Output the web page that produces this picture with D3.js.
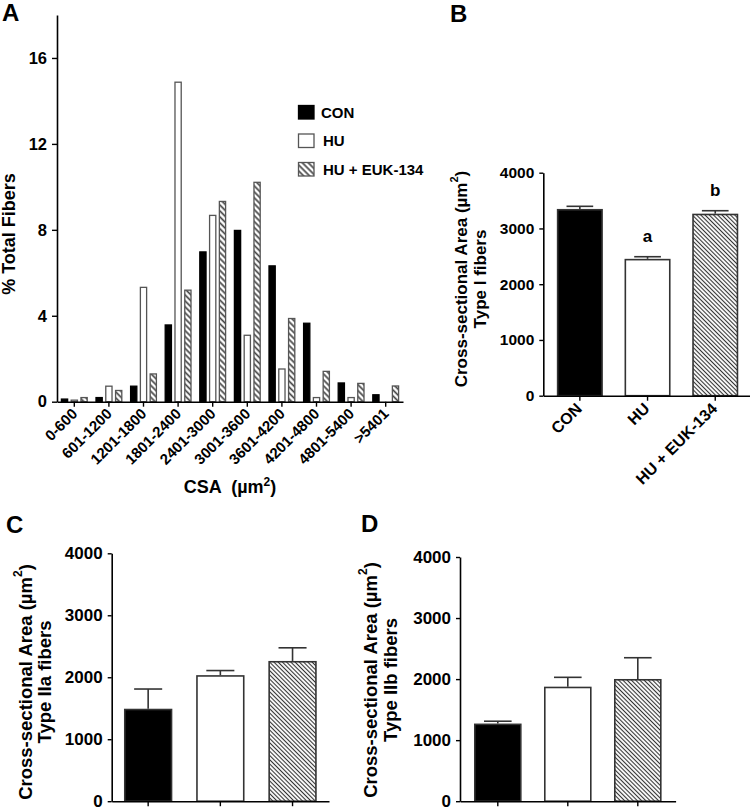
<!DOCTYPE html>
<html>
<head>
<meta charset="utf-8">
<script src="https://cdn.jsdelivr.net/npm/d3@7"></script>
<style>
  html, body { margin: 0; padding: 0; background: #fff; }
  svg { display: block; font-family: "Liberation Sans", Arial, Helvetica, sans-serif; font-weight: bold; }
</style>
</head>
<body>
<svg id="chart" width="750" height="810"></svg>
<script>
// ---------- data ----------
const categories = ["0-600","601-1200","1201-1800","1801-2400","2401-3000","3001-3600","3601-4200","4201-4800","4801-5400",">5401"];
const seriesNames = ["CON","HU","HU + EUK-134"];
const conPct = [0.15, 0.22, 0.75, 3.6, 7.0, 8.0, 6.35, 3.68, 0.9, 0.35];
const huPct  = [0.1, 0.75, 5.35, 14.9, 8.7, 3.12, 1.55, 0.22, 0.22, 0];
const eukPct = [0.22, 0.55, 1.32, 5.22, 9.35, 10.24, 3.9, 1.44, 0.88, 0.76];
const pctTicks = [0, 4, 8, 12, 16];

const groups = ["CON","HU","HU + EUK-134"];
const typeI     = [3350, 2455, 3265];
const typeIErr  = [47, 38, 53];
const typeISig  = ["", "a", "b"];
const typeIIa    = [1492, 2034, 2263];
const typeIIaErr = [318, 74, 212];
const typeIIb    = [1272, 1876, 2002];
const typeIIbErr = [38, 153, 348];
const areaTicks = [0, 1000, 2000, 3000, 4000];

// ---------- setup ----------
const svg = d3.select("#chart");
const defs = svg.append("defs");
function hatch(id, s, w, col) {
  const p = defs.append("pattern").attr("id", id)
    .attr("patternUnits", "userSpaceOnUse").attr("width", s).attr("height", s)
    .attr("patternTransform", "rotate(-45)");
  p.append("rect").attr("width", s).attr("height", s).attr("fill", "#fff");
  p.append("line").attr("x1", s/2).attr("x2", s/2).attr("y1", 0).attr("y2", s)
    .attr("stroke", col).attr("stroke-width", w);
}
hatch("hatchA", 4.2, 1.7, "#444");
hatch("hatchB", 3, 1.1, "#333");

function styleAxis(g, fs) {
  g.select(".domain").attr("stroke", "#000").attr("stroke-width", 1.6);
  g.selectAll(".tick line").attr("stroke", "#000").attr("stroke-width", 1.4);
  g.selectAll(".tick text").attr("fill", "#000").style("font-size", fs + "px")
    .style("font-family", '"Liberation Sans", Arial, sans-serif').style("font-weight", "bold");
}

function areaLabel(parent, cx1, cx2, cy, line2, fs) {
  const t1 = parent.append("text").attr("transform", `translate(${cx1},${cy}) rotate(-90)`)
    .attr("text-anchor", "middle").attr("dominant-baseline", "central").style("font-size", fs + "px");
  t1.append("tspan").text("Cross-sectional Area (µm");
  t1.append("tspan").text("2").style("font-size", (fs*0.65) + "px").attr("dy", -fs*0.4);
  t1.append("tspan").text(")").attr("dy", fs*0.4);
  parent.append("text").attr("transform", `translate(${cx2},${cy}) rotate(-90)`)
    .attr("text-anchor", "middle").attr("dominant-baseline", "central").style("font-size", fs + "px")
    .text(line2);
}

// ---------- Panel A ----------
(function(){
  const x0 = 57, x1 = 403, yB = 401.7, yT = 15;
  const x = d3.scaleBand().domain(categories).range([x0, x1]).paddingInner(0).paddingOuter(0);
  const xs = d3.scaleBand().domain(seriesNames).range([-13.5, 13.5]).paddingInner(0.24);
  const y = d3.scaleLinear().domain([0, 18]).range([yB, yT]);
  const g = svg.append("g");
  const fills = ["#000", "#fff", "url(#hatchA)"];
  const strokes = ["#000", "#555", "#555"];
  const data = [conPct, huPct, eukPct];
  seriesNames.forEach((s, si) => {
    g.append("g").selectAll("rect").data(categories.map((c, i) => ({c, v: data[si][i]})))
      .join("rect")
      .filter(d => d.v > 0)
      .attr("x", d => x(d.c) + x.bandwidth()/2 + xs(s) + 0.6)
      .attr("width", xs.bandwidth() - 1.2)
      .attr("y", d => y(d.v) + 0.6)
      .attr("height", d => Math.max(0, yB - y(d.v) - 0.6))
      .attr("fill", fills[si]).attr("stroke", strokes[si]).attr("stroke-width", 1.3);
  });
  const ya = g.append("g").attr("transform", `translate(${x0},0)`)
    .call(d3.axisLeft(y).tickValues(pctTicks).tickFormat(d3.format("d")).tickSize(5).tickPadding(5).tickSizeOuter(0));
  styleAxis(ya, 16.5);
  const xa = g.append("g").attr("transform", `translate(0,${yB})`)
    .call(d3.axisBottom(x).tickSize(5).tickSizeOuter(0).tickFormat(""));
  styleAxis(xa, 15);
  g.append("g").selectAll("text").data(categories).join("text")
    .attr("transform", d => `translate(${x(d) + x.bandwidth()/2 + 4},${yB + 13}) rotate(-45)`)
    .attr("text-anchor", "end").style("font-size", "15px").text(d => d);
  // axis titles
  g.append("text").attr("transform", `translate(9,234) rotate(-90)`)
    .attr("text-anchor", "middle").attr("dominant-baseline", "central")
    .style("font-size", "18px").text("% Total Fibers");
  const xt = g.append("text").attr("x", 230).attr("y", 493).attr("text-anchor", "middle")
    .style("font-size", "18px").style("white-space", "pre");
  xt.append("tspan").text("CSA  (µm");
  xt.append("tspan").text("2").style("font-size", "12px").attr("dy", -7);
  xt.append("tspan").text(")").attr("dy", 7);
  // legend
  const lg = g.append("g");
  const legY = [105.5, 134, 162.5];
  seriesNames.forEach((s, i) => {
    lg.append("rect").attr("x", 298.5).attr("y", legY[i]).attr("width", 15.5).attr("height", 13.5)
      .attr("fill", fills[i]).attr("stroke", strokes[i]).attr("stroke-width", 1.3);
    lg.append("text").attr("x", i === 0 ? 321 : 323).attr("y", legY[i] + 12)
      .style("font-size", "15px").text(s);
  });
  svg.append("text").attr("x", 2).attr("y", 21).style("font-size", "24px").text("A");
})();

// ---------- bar panels B, C, D ----------
function barPanel(o) {
  const g = svg.append("g");
  const x = d3.scaleBand().domain(groups).range([o.x0, o.x1]).paddingInner(o.pi).paddingOuter(o.po);
  const y = d3.scaleLinear().domain([0, 4000]).range([o.yB, o.yT]);
  const fills = ["#000", "#fff", "url(#hatchB)"];
  const rows = groups.map((c, i) => ({c, v: o.vals[i], e: o.errs[i], s: o.sig ? o.sig[i] : ""}));
  // error bars
  const cw = x.bandwidth() * 0.58;
  const eg = g.append("g").attr("stroke", "#333").attr("stroke-width", 1.6);
  eg.selectAll("line.stem").data(rows).join("line").attr("class", "stem")
    .attr("x1", d => x(d.c) + x.bandwidth()/2).attr("x2", d => x(d.c) + x.bandwidth()/2)
    .attr("y1", d => y(d.v)).attr("y2", d => y(d.v + d.e));
  eg.selectAll("line.cap").data(rows).join("line").attr("class", "cap")
    .attr("x1", d => x(d.c) + x.bandwidth()/2 - cw/2).attr("x2", d => x(d.c) + x.bandwidth()/2 + cw/2)
    .attr("y1", d => y(d.v + d.e)).attr("y2", d => y(d.v + d.e));
  g.append("g").selectAll("rect").data(rows).join("rect")
    .attr("x", d => x(d.c) + 0.8).attr("width", x.bandwidth() - 1.6)
    .attr("y", d => y(d.v) + 0.8).attr("height", d => o.yB - y(d.v) - 0.8)
    .attr("fill", (d, i) => fills[i]).attr("stroke", "#333").attr("stroke-width", 1.6);
  // significance letters
  g.append("g").selectAll("text").data(rows.filter(d => d.s)).join("text")
    .attr("x", d => x(d.c) + x.bandwidth()/2).attr("y", d => y(d.v + d.e) - 15)
    .attr("text-anchor", "middle").style("font-size", "17px").text(d => d.s);
  const ya = g.append("g").attr("transform", `translate(${o.x0},0)`)
    .call(d3.axisLeft(y).tickValues(areaTicks).tickFormat(d3.format("d")).tickSize(4).tickPadding(5).tickSizeOuter(0));
  styleAxis(ya, o.fs);
  const xa = g.append("g").attr("transform", `translate(0,${o.yB})`)
    .call(d3.axisBottom(x).tickSize(5).tickSizeOuter(0).tickFormat(""));
  styleAxis(xa, o.fs);
  if (o.xlabels) {
    g.append("g").selectAll("text").data(groups).join("text")
      .attr("transform", d => `translate(${x(d) + x.bandwidth()/2 + 3},${o.yB + 14}) rotate(-45)`)
      .attr("text-anchor", "end").style("font-size", "16px").text(d => d);
  }
  areaLabel(g, o.lx1, o.lx2, o.ly, o.line2, o.lfs);
  svg.append("text").attr("x", o.px).attr("y", o.py).style("font-size", "24px").text(o.panel);
}

barPanel({panel: "B", px: 450, py: 22, x0: 543.3, x1: 751.8, pi: 0.32, po: 0.2, yB: 395.7, yT: 172.7,
  vals: typeI, errs: typeIErr, sig: typeISig, fs: 15.5, xlabels: true,
  lx1: 461, lx2: 480.5, ly: 279, line2: "Type I fibers", lfs: 17});
barPanel({panel: "C", px: 6, py: 533, x0: 111.7, x1: 329, pi: 0.33, po: 0.17, yB: 801.2, yT: 553.3,
  vals: typeIIa, errs: typeIIaErr, fs: 17, xlabels: false,
  lx1: 25, lx2: 44, ly: 682, line2: "Type IIa fibers", lfs: 18.5});
barPanel({panel: "D", px: 361, py: 532, x0: 460, x1: 675.6, pi: 0.32, po: 0.2, yB: 801.2, yT: 557,
  vals: typeIIb, errs: typeIIbErr, fs: 17, xlabels: false,
  lx1: 370, lx2: 390, ly: 680, line2: "Type IIb fibers", lfs: 18.5});
</script>
</body>
</html>
